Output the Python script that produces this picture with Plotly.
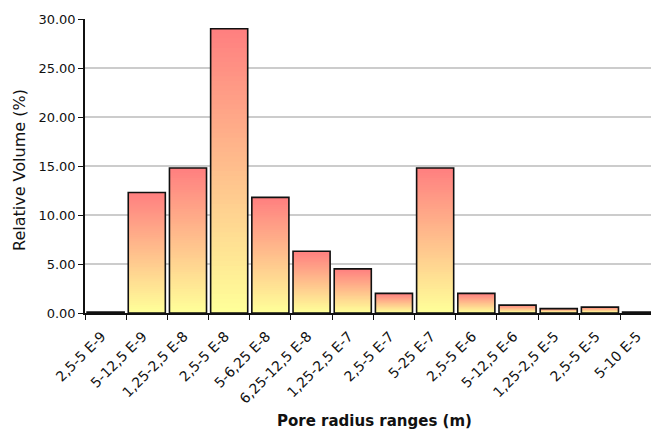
import plotly.graph_objects as go

# Pore radius classes and the relative volume in each (%)
ranges = ["2,5-5 E-9", "5-12,5 E-9", "1,25-2,5 E-8", "2,5-5 E-8", "5-6,25 E-8",
          "6,25-12,5 E-8", "1,25-2,5 E-7", "2,5-5 E-7", "5-25 E-7", "2,5-5 E-6",
          "5-12,5 E-6", "1,25-2,5 E-5", "2,5-5 E-5", "5-10 E-5"]
rel_volume = [0.1, 12.3, 14.8, 29.0, 11.8, 6.3, 4.5, 2.0, 14.8, 2.0, 0.8, 0.45, 0.6, 0.1]
y_ticks = [0, 5, 10, 15, 20, 25, 30]

TOP = (255, 128, 128)     # salmon at the bar top
BOTTOM = (255, 255, 153)  # pale yellow at the bar base
STEPS = 60

fig = go.Figure()

# Vertical gradient: overlaid bars, each shorter and yellower than the last
for k in range(STEPS):
    frac = k / (STEPS - 1)
    r = round(TOP[0] + (BOTTOM[0] - TOP[0]) * frac)
    g = round(TOP[1] + (BOTTOM[1] - TOP[1]) * frac)
    b = round(TOP[2] + (BOTTOM[2] - TOP[2]) * frac)
    fig.add_trace(go.Bar(
        x=ranges,
        y=[v * (STEPS - k) / STEPS for v in rel_volume],
        marker=dict(color=f"rgb({r},{g},{b})", line=dict(width=0)),
        hoverinfo="skip",
        showlegend=False,
    ))

# Black outline on top of the gradient
fig.add_trace(go.Bar(
    x=ranges,
    y=rel_volume,
    marker=dict(color="rgba(0,0,0,0)", line=dict(color="#111111", width=1.6)),
    showlegend=False,
))

fig.update_layout(
    width=651,
    height=429,
    margin=dict(l=85, r=0, t=19, b=116),
    barmode="overlay",
    bargap=0.1,
    plot_bgcolor="white",
    paper_bgcolor="white",
    font=dict(family="DejaVu Sans", size=12, color="#111111"),
    xaxis=dict(
        type="category",
        range=[-0.5, 13.24],
        tickangle=-45,
        tickson="boundaries",
        ticks="outside",
        ticklen=5,
        tickcolor="#111111",
        ticklabelstandoff=8,
        ticklabelshift=-4,
        showline=True,
        linecolor="#111111",
        linewidth=1.5,
        showgrid=False,
        tickfont=dict(family="DejaVu Sans", size=14, color="#111111"),
    ),
    yaxis=dict(
        range=[0, 30],
        tickvals=y_ticks,
        tickformat=".2f",
        ticks="outside",
        ticklen=5,
        tickcolor="#111111",
        showline=True,
        linecolor="#111111",
        linewidth=1.5,
        showgrid=True,
        gridcolor="#CCCCCC",
        gridwidth=1.5,
        zeroline=False,
        tickfont=dict(family="DejaVu Sans", size=13, color="#111111"),
    ),
    annotations=[
        dict(text="Relative Volume (%)", xref="paper", yref="paper",
             x=-66 / 566, y=(313 - 170) / 294, textangle=-90, showarrow=False,
             xanchor="center", yanchor="middle",
             font=dict(family="DejaVu Sans", size=16, color="#111111")),
        dict(text="<b>Pore radius ranges (m)</b>", xref="paper", yref="paper",
             x=(374 - 85) / 566, y=-108 / 294, showarrow=False,
             xanchor="center", yanchor="middle",
             font=dict(family="DejaVu Sans", size=15, color="#111111")),
    ],
)

fig.write_html("out.html")
